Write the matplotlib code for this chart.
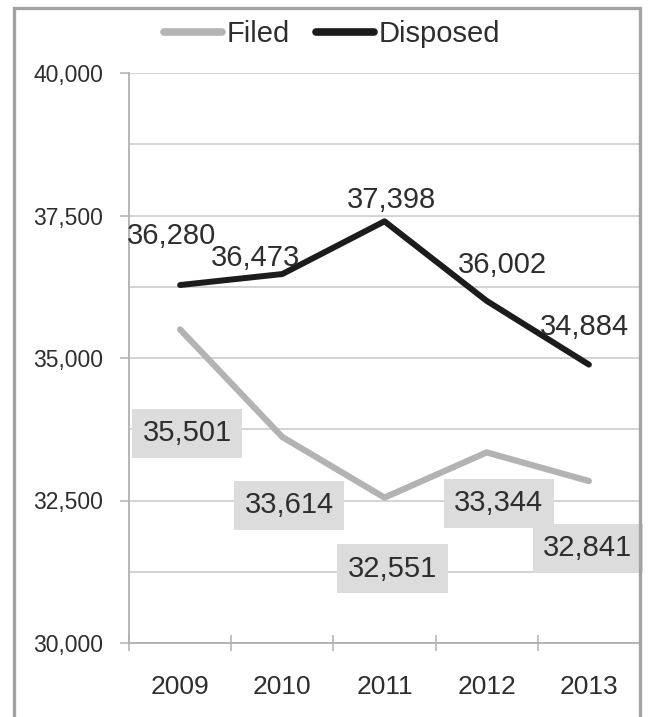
import matplotlib
matplotlib.use("Agg")
import matplotlib.pyplot as plt
from matplotlib.patches import Rectangle
from matplotlib.ticker import MultipleLocator, FixedLocator, FuncFormatter

years = ["2009", "2010", "2011", "2012", "2013"]
filed = [35501, 33614, 32551, 33344, 32841]
disposed = [36280, 36473, 37398, 36002, 34884]

# label offsets in pixels (dx, dy up)
disp_off = [(-9, 49), (-27, 16), (7, 21), (16, 36), (-4, 38)]
filed_off = [(7, -104), (7, -68), (8, -71), (12, -51), (-1, -67)]

NARROW = ["Liberation Sans Narrow", "DejaVu Sans Condensed", "Liberation Sans"]
REG = ["Liberation Sans", "DejaVu Sans"]
TXT = "#2e2e2e"

fig = plt.figure(figsize=(6.49, 7.17), dpi=100)
ax = fig.add_axes([129/649, 1 - 643/717, (640-129)/649, (643-73)/717])

x = list(range(len(years)))
ax.plot(x, filed, color="#b3b3b3", lw=4.5, solid_capstyle="round", label="Filed", zorder=3)
ax.plot(x, disposed, color="#1c1c1c", lw=4.3, solid_capstyle="round", label="Disposed", zorder=3)

ax.set_xlim(-0.5, 4.5)
ax.set_ylim(30000, 40000)

# y axis
ax.yaxis.set_major_locator(MultipleLocator(2500))
ax.yaxis.set_minor_locator(MultipleLocator(1250))
ax.yaxis.set_major_formatter(FuncFormatter(lambda v, p: f"{int(v):,}"))
ax.tick_params(axis="y", which="major", length=6.5, width=1.1, color="#b0b0b0",
               pad=12, labelsize=16.5, labelcolor=TXT)
ax.tick_params(axis="y", which="minor", length=0)
for lab in ax.get_yticklabels():
    lab.set_family(REG)
ax.grid(axis="y", which="both", color="#c8c8c8", lw=1.1, zorder=0)

# x axis
ax.xaxis.set_major_locator(FixedLocator([-0.5, 0.5, 1.5, 2.5, 3.5]))
ax.xaxis.set_minor_locator(FixedLocator(x))
ax.set_xticklabels([], minor=False)
ax.set_xticklabels(years, minor=True, family=NARROW, fontsize=19, color=TXT)
ax.tick_params(axis="x", which="major", direction="inout", length=12, width=1.1, color="#b0b0b0")
ax.tick_params(axis="x", which="minor", length=0, pad=23)

for s in ["top", "right"]:
    ax.spines[s].set_visible(False)
for s in ["left", "bottom"]:
    ax.spines[s].set_color("#b0b0b0")
    ax.spines[s].set_linewidth(1.3)

# labels
for i in x:
    ax.annotate(f"{disposed[i]:,}", (i, disposed[i]), xytext=disp_off[i],
                textcoords="offset pixels", ha="center", va="center",
                fontsize=21, family=NARROW, color=TXT, zorder=5)
    ax.annotate(f"{filed[i]:,}", (i, filed[i]), xytext=filed_off[i],
                textcoords="offset pixels", ha="center", va="center",
                fontsize=21, family=NARROW, color=TXT, zorder=5,
                bbox=dict(boxstyle="square,pad=0.36", fc="#dcdcdc", ec="none"))

# legend
leg = fig.legend(loc="center", bbox_to_anchor=(332/649, 1 - 34/717), ncol=2,
                 frameon=False, handlelength=2.0, handletextpad=0.15,
                 columnspacing=0.9, borderpad=0, prop={"family": NARROW, "size": 21})
for t in leg.get_texts():
    t.set_color(TXT)
for h in leg.legend_handles:
    h.set_linewidth(5.5)

# outer frame
fig.patches.append(Rectangle((14/649, -0.05), (640-14)/649, 1.05 - 8/717,
                             transform=fig.transFigure, fill=False,
                             ec="#a3a3a3", lw=2.4, zorder=10))

fig.savefig("out.png", dpi=100, facecolor="white")
